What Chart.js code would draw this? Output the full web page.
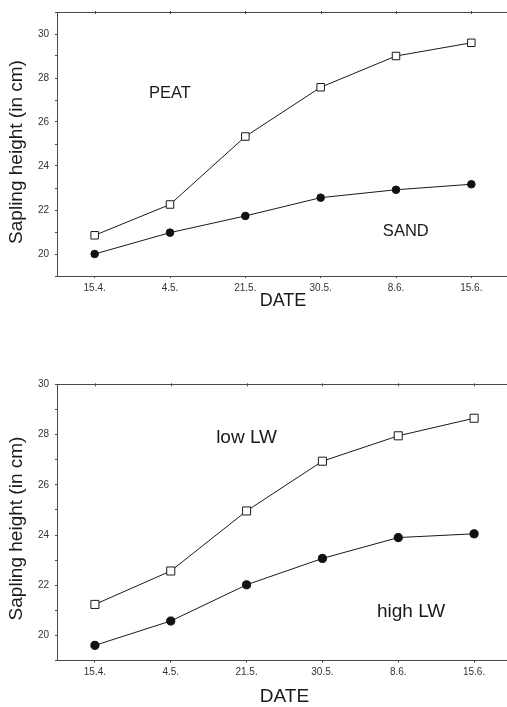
<!DOCTYPE html>
<html>
<head>
<meta charset="utf-8">
<script src="https://cdn.jsdelivr.net/npm/chart.js@4"></script>
<style>
  html, body { margin: 0; padding: 0; background: #fff; overflow: hidden; }
  #page { position: relative; width: 507px; height: 707px; overflow: hidden; }
  .box { position: absolute; left: 0; }
</style>
</head>
<body>
<div id="page">
  <div class="box" style="top:0px"><canvas id="chartTop" width="540" height="315"></canvas></div>
  <div class="box" style="top:370px"><canvas id="chartBottom" width="540" height="337"></canvas></div>
</div>
<script>
// values
var dates = ['15.4.', '4.5.', '21.5.', '30.5.', '8.6.', '15.6.'];
var peat = [20.85, 22.25, 25.34, 27.58, 29.0, 29.6];
var sand = [20.0, 20.97, 21.73, 22.56, 22.92, 23.17];
var lowLW = [21.24, 22.57, 24.96, 26.94, 27.95, 28.65];
var highLW = [19.61, 20.58, 22.02, 23.07, 23.9, 24.05];

// series names written inside the plots (x = date index, y = height)
var topNotes = [{ text: 'PEAT', x: 1, y: 27.28 }, { text: 'SAND', x: 4.13, y: 21.03 }];
var bottomNotes = [{ text: 'low LW', x: 2, y: 27.87 }, { text: 'high LW', x: 4.17, y: 20.94 }];

var FONT = "'Liberation Sans', Arial, sans-serif";
var axisColor = '#4a4a4a';

// top border with small tick marks, plus the y title (sits a bit below centre in the original)
var framePlugin = {
  id: 'frame',
  afterDraw: function (chart, args, opts) {
    var ctx = chart.ctx, a = chart.chartArea, xs = chart.scales.x;
    ctx.save();
    ctx.strokeStyle = axisColor;
    ctx.lineWidth = 1;
    ctx.beginPath();
    ctx.moveTo(a.left, Math.round(a.top) + 0.5);
    ctx.lineTo(a.right, Math.round(a.top) + 0.5);
    dates.forEach(function (d, i) {
      var px = Math.round(xs.getPixelForValue(i)) + 0.5;
      ctx.moveTo(px, a.top - 1);
      ctx.lineTo(px, a.top + 2);
    });
    ctx.stroke();

    ctx.translate(17, (a.top + a.bottom) / 2 + opts.yTitleShift);
    ctx.rotate(-Math.PI / 2);
    ctx.fillStyle = '#1a1a1a';
    ctx.font = '19px ' + FONT;
    ctx.textAlign = 'center';
    ctx.textBaseline = 'middle';
    ctx.fillText('Sapling height (in cm)', 0, 0);
    ctx.restore();
  }
};

var notesPlugin = {
  id: 'notes',
  afterDatasetsDraw: function (chart, args, opts) {
    var ctx = chart.ctx;
    ctx.save();
    ctx.fillStyle = '#1a1a1a';
    ctx.font = opts.size + 'px ' + FONT;
    ctx.textAlign = 'center';
    ctx.textBaseline = 'middle';
    opts.items.forEach(function (n) {
      ctx.fillText(n.text, chart.scales.x.getPixelForValue(n.x), chart.scales.y.getPixelForValue(n.y));
    });
    ctx.restore();
  }
};

function makeChart(id, upper, lower, yMax, notes, o) {
  return new Chart(document.getElementById(id), {
    type: 'line',
    data: {
      labels: dates,
      datasets: [{
        data: upper,
        borderColor: '#1a1a1a',
        borderWidth: 1,
        pointStyle: 'rect',
        pointRadius: o.sq,
        pointBackgroundColor: '#fff',
        pointBorderColor: '#1a1a1a',
        pointBorderWidth: 1
      }, {
        data: lower,
        borderColor: '#1a1a1a',
        borderWidth: 1,
        pointStyle: 'circle',
        pointRadius: o.dot,
        pointBackgroundColor: '#111',
        pointBorderColor: '#111',
        pointBorderWidth: 1
      }]
    },
    options: {
      responsive: false,
      animation: false,
      layout: { padding: { top: o.padTop, right: o.padRight, left: 0, bottom: 0 } },
      plugins: {
        legend: { display: false },
        tooltip: { enabled: false },
        notes: { items: notes, size: o.noteSize },
        frame: { yTitleShift: o.yTitleShift }
      },
      scales: {
        x: {
          type: 'category',
          offset: true,
          afterFit: function (s) { s.height = o.xHeight; },
          border: { color: axisColor, width: 1 },
          grid: { drawOnChartArea: false, color: axisColor, tickLength: 2 },
          ticks: { color: '#333', padding: 4, font: { family: FONT, size: 10 }, maxRotation: 0 },
          title: {
            display: true, text: 'DATE', color: '#1a1a1a',
            font: { family: FONT, size: o.dateSize, lineHeight: 1 },
            padding: { top: 0, bottom: o.datePad }
          }
        },
        y: {
          min: 19,
          max: yMax,
          afterFit: function (s) { s.width = 57; },
          border: { color: axisColor, width: 1 },
          grid: { drawOnChartArea: false, color: axisColor, tickLength: 2 },
          ticks: {
            stepSize: 1, autoSkip: false, color: '#333', padding: 6,
            font: { family: FONT, size: 10 },
            callback: function (v) { return v % 2 === 0 ? v : ''; }
          }
        }
      }
    },
    plugins: [framePlugin, notesPlugin]
  });
}

makeChart('chartTop', peat, sand, 31, topNotes,
  { sq: 5.3, dot: 3.8, padTop: 8, padRight: 31, xHeight: 39, dateSize: 18, datePad: 5, noteSize: 16.5, yTitleShift: 8 });
makeChart('chartBottom', lowLW, highLW, 30, bottomNotes,
  { sq: 5.7, dot: 4.1, padTop: 14.3, padRight: 28, xHeight: 46.3, dateSize: 19, datePad: 0.5, noteSize: 19, yTitleShift: 6 });
</script>
</body>
</html>
